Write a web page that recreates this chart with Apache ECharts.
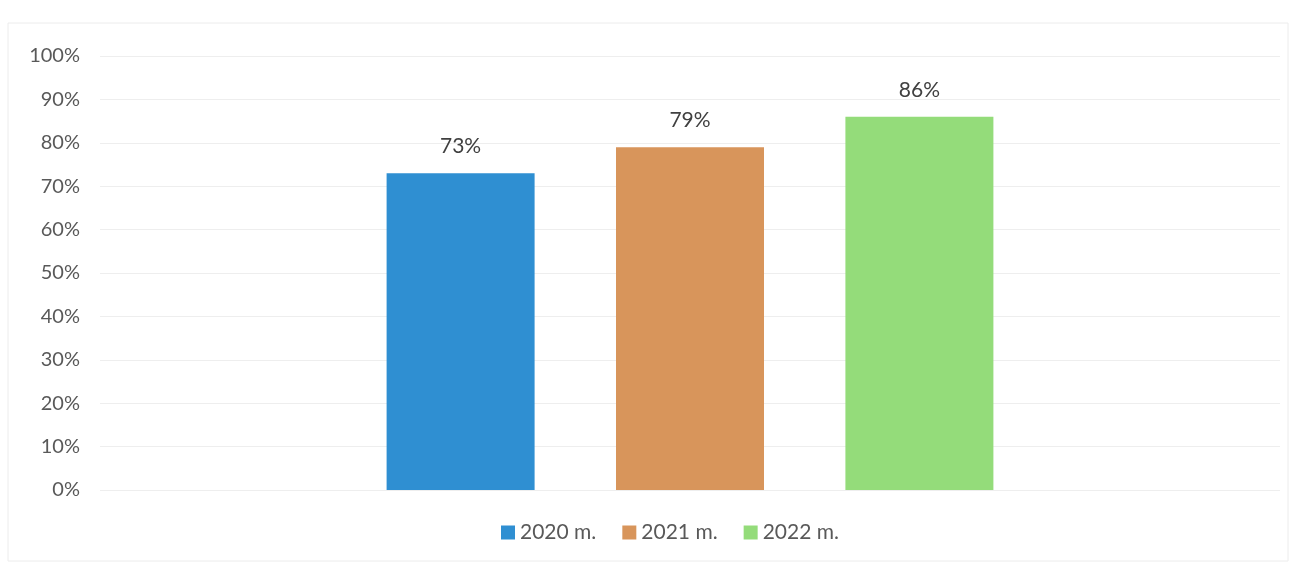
<!DOCTYPE html>
<html><head><meta charset="utf-8">
<script src="https://cdn.jsdelivr.net/npm/echarts@6/dist/echarts.min.js"></script>
<style>html,body{margin:0;padding:0;background:#fff}#c{width:1294px;height:572px}</style>
</head><body><div id="c"></div>
<script>
const categories = [''];
const seriesNames = ['2020 m.', '2021 m.', '2022 m.'];
const values2020 = [73];
const values2021 = [79];
const values2022 = [86];
const colors = ['#2f8fd2', '#d8955b', '#94dc7a'];
const yTicks = [0, 10, 20, 30, 40, 50, 60, 70, 80, 90, 100];

const chart = echarts.init(document.getElementById('c'));
const dataSets = [values2020, values2021, values2022];
chart.setOption({
  animation: false,
  textStyle: { fontFamily: 'Lato, "Open Sans", sans-serif' },
  graphic: [{ type: 'rect', shape: { x: 8, y: 23, width: 1280, height: 538 }, style: { fill: 'none', stroke: '#ececec', lineWidth: 1 } }],
  grid: { left: 100, right: 14, top: 56, bottom: 82 },
  legend: {
    bottom: 24, left: 496,
    itemWidth: 14, itemHeight: 14, itemGap: 26,
    icon: 'rect',
    textStyle: { fontSize: 21, color: '#595959', fontFamily: 'Lato, sans-serif' },
    data: seriesNames
  },
  xAxis: { type: 'category', data: categories, axisLine: { show: false }, axisTick: { show: false }, axisLabel: { show: false } },
  yAxis: {
    type: 'value', min: yTicks[0], max: yTicks[yTicks.length - 1], interval: 10,
    axisLabel: { formatter: '{value}%', fontSize: 20, color: '#595959', margin: 20 },
    axisLine: { show: false }, axisTick: { show: false },
    splitLine: { lineStyle: { color: '#eeeeee', width: 1 } }
  },
  series: seriesNames.map((n, i) => ({
    name: n, type: 'bar', data: dataSets[i],
    barWidth: 148, barGap: '55%',
    itemStyle: { color: colors[i] },
    label: { show: true, position: 'top', distance: 16, formatter: '{c}%', fontSize: 21, color: '#404040' }
  }))
});
</script></body></html>
